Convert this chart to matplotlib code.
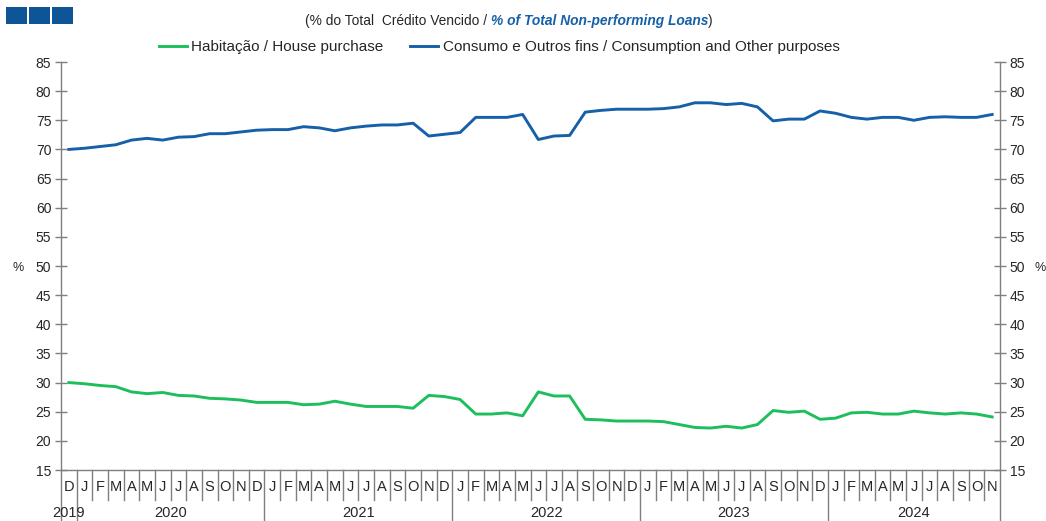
import matplotlib
matplotlib.use("Agg")
import matplotlib.pyplot as plt
from matplotlib.patches import Rectangle
import matplotlib.transforms as mtransforms

plt.rcParams["font.family"] = ["Liberation Sans", "DejaVu Sans"]

# monthly data, Dec 2019 .. Nov 2024
months = ['D',
          'J', 'F', 'M', 'A', 'M', 'J', 'J', 'A', 'S', 'O', 'N', 'D',
          'J', 'F', 'M', 'A', 'M', 'J', 'J', 'A', 'S', 'O', 'N', 'D',
          'J', 'F', 'M', 'A', 'M', 'J', 'J', 'A', 'S', 'O', 'N', 'D',
          'J', 'F', 'M', 'A', 'M', 'J', 'J', 'A', 'S', 'O', 'N', 'D',
          'J', 'F', 'M', 'A', 'M', 'J', 'J', 'A', 'S', 'O', 'N']
years = ['2019', '2020', '2021', '2022', '2023', '2024']

habitacao = [30.0,
             29.8, 29.5, 29.3, 28.4, 28.1, 28.3, 27.8, 27.7, 27.3, 27.2, 27.0, 26.6,
             26.6, 26.6, 26.2, 26.3, 26.8, 26.3, 25.9, 25.9, 25.9, 25.6, 27.8, 27.6,
             27.1, 24.6, 24.6, 24.8, 24.3, 28.4, 27.7, 27.7, 23.7, 23.6, 23.4, 23.4,
             23.4, 23.3, 22.8, 22.3, 22.2, 22.5, 22.2, 22.8, 25.2, 24.9, 25.1, 23.7,
             23.9, 24.8, 24.9, 24.6, 24.6, 25.1, 24.8, 24.6, 24.8, 24.6, 24.1]
consumo = [70.0,
           70.2, 70.5, 70.8, 71.6, 71.9, 71.6, 72.1, 72.2, 72.7, 72.7, 73.0, 73.3,
           73.4, 73.4, 73.9, 73.7, 73.2, 73.7, 74.0, 74.2, 74.2, 74.5, 72.3, 72.6,
           72.9, 75.5, 75.5, 75.5, 76.0, 71.7, 72.3, 72.4, 76.4, 76.7, 76.9, 76.9,
           76.9, 77.0, 77.3, 78.0, 78.0, 77.7, 77.9, 77.3, 74.9, 75.2, 75.2, 76.6,
           76.2, 75.5, 75.2, 75.5, 75.5, 75.0, 75.5, 75.6, 75.5, 75.5, 76.0]

green = '#1dbf5c'
blue = '#1560a8'
navy = '#0d5597'
axcol = '#7f7f7f'
txtcol = '#262626'

W, H = 1046, 521
fig = plt.figure(figsize=(W / 100, H / 100), dpi=100)
ax = fig.add_axes([61 / W, 1 - 470 / H, 939 / W, 408 / H])

x = list(range(len(months)))
ax.plot(x, habitacao, color=green, lw=2.1, label='Habitação / House purchase')
ax.plot(x, consumo, color=blue, lw=2.1,
        label='Consumo e Outros fins / Consumption and Other purposes')

ax.set_xlim(-0.5, len(months) - 0.5)
ax.set_ylim(15, 85)
ax.set_yticks(range(15, 86, 5))
ax.tick_params(axis='y', direction='inout', length=8, width=1, color=axcol,
               labelsize=10, labelcolor=txtcol, left=True, right=True,
               labelleft=True, labelright=True, pad=3)
ax.set_xticks([])
ax.spines['top'].set_visible(False)
for s in ['left', 'right', 'bottom']:
    ax.spines[s].set_color(axcol)
    ax.spines[s].set_linewidth(1)

# percent labels on both sides
fig.text(18 / W, 1 - 268 / H, '%', fontsize=9, color=txtcol, ha='center', va='center')
fig.text(1040 / W, 1 - 268 / H, '%', fontsize=9, color=txtcol, ha='center', va='center')

# month / year category axis drawn below the plot
trans = mtransforms.blended_transform_factory(ax.transData, ax.transAxes)
short_y = -30 / 408
long_y = -50 / 408
year_edges = [-0.5, 0.5, 12.5, 24.5, 36.5, 48.5, len(months) - 0.5]
for i in range(len(months) + 1):
    xb = i - 0.5
    yb = long_y if xb in year_edges else short_y
    ax.plot([xb, xb], [0, yb], color=axcol, lw=1, transform=trans, clip_on=False)
for i, m in enumerate(months):
    ax.text(i, -17 / 408, m, transform=trans, ha='center', va='center',
            fontsize=10.5, color=txtcol)
for k, yr in enumerate(years):
    x0, x1 = year_edges[k], year_edges[k + 1]
    ax.text((x0 + x1) / 2, -43 / 408, yr, transform=trans, ha='center',
            va='center', fontsize=10.5, color=txtcol)

# legend
fig.legend(loc='center', bbox_to_anchor=(499 / W, 1 - 47 / H), ncol=2,
           frameon=False, fontsize=11, handlelength=1.85, columnspacing=1.7,
           handletextpad=0.3, labelcolor=txtcol)

# subtitle
t1 = fig.text(305 / W, 1 - 25 / H, '(% do Total  Crédito Vencido / ', fontsize=9.9,
              color=txtcol, ha='left', va='baseline')
t2 = fig.text(0, 0, '% of Total Non-performing Loans', fontsize=9.9, color=blue,
              fontweight='bold', fontstyle='italic', ha='left', va='baseline')
t3 = fig.text(0, 0, ')', fontsize=9.9, color=txtcol, ha='left', va='baseline')
fig.canvas.draw()
r = fig.canvas.get_renderer()
bb = t1.get_window_extent(r)
t2.set_position((bb.x1 / W, 1 - 25 / H))
bb2 = t2.get_window_extent(r)
t3.set_position((bb2.x1 / W, 1 - 25 / H))

# decorative squares top-left
for xs in [6, 29, 52]:
    fig.patches.append(Rectangle((xs / W, 1 - 24 / H), 21 / W, 17 / H,
                                 transform=fig.transFigure, facecolor=navy,
                                 edgecolor='none'))

fig.savefig('out.png', dpi=100)
